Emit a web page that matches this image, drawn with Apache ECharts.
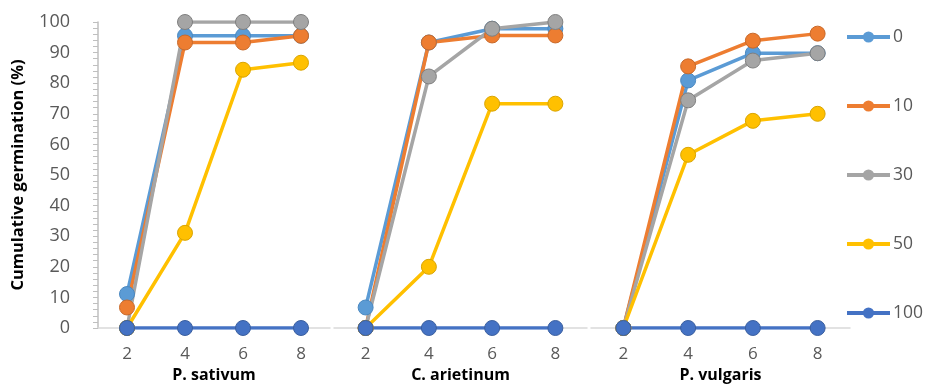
<!DOCTYPE html>
<html>
<head>
<meta charset="utf-8">
<script src="https://cdn.jsdelivr.net/npm/echarts@6/dist/echarts.min.js"></script>
<style>
html,body{margin:0;padding:0;background:#fff;}
#c{width:925px;height:384px;}
</style>
</head>
<body>
<div id="c"></div>
<script>
// Data
const days = ['2', '4', '6', '8'];
const panels = ['P. sativum', 'C. arietinum', 'P. vulgaris'];
const seriesNames = ['0', '10', '30', '50', '100'];
const yTicks = [0, 10, 20, 30, 40, 50, 60, 70, 80, 90, 100];

// P. sativum
const sativum_0   = [11.1, 95.5, 95.5, 95.5];
const sativum_10  = [6.7, 93.3, 93.3, 95.5];
const sativum_30  = [0, 100, 100, 100];
const sativum_50  = [0, 31.1, 84.4, 86.7];
const sativum_100 = [0, 0, 0, 0];

// C. arietinum
const arietinum_0   = [6.7, 93.3, 97.8, 97.8];
const arietinum_10  = [0, 93.3, 95.6, 95.6];
const arietinum_30  = [0, 82.2, 97.8, 100];
const arietinum_50  = [0, 20, 73.3, 73.3];
const arietinum_100 = [0, 0, 0, 0];

// P. vulgaris
const vulgaris_0   = [0, 80.9, 89.8, 89.8];
const vulgaris_10  = [0, 85.5, 93.9, 96.2];
const vulgaris_30  = [0, 74.4, 87.4, 89.8];
const vulgaris_50  = [0, 56.6, 67.7, 70.0];
const vulgaris_100 = [0, 0, 0, 0];

const panelData = [
  [sativum_0, sativum_10, sativum_30, sativum_50, sativum_100],
  [arietinum_0, arietinum_10, arietinum_30, arietinum_50, arietinum_100],
  [vulgaris_0, vulgaris_10, vulgaris_30, vulgaris_50, vulgaris_100]
];

const colors = ['#5B9BD5', '#ED7D31', '#A5A5A5', '#FFC000', '#4472C4'];
const borders = ['#4a88c0', '#c8692a', '#7f7f7f', '#d9a400', '#3a5f9f'];

const grids = [
  {left: 98, width: 232, top: 22, bottom: 56, outerBoundsMode: 'none', containLabel: false},
  {left: 334, width: 253, top: 22, bottom: 56, outerBoundsMode: 'none', containLabel: false},
  {left: 591, width: 259, top: 22, bottom: 56, outerBoundsMode: 'none', containLabel: false}
];

const xAxes = panels.map((p, i) => ({
  type: 'category',
  gridIndex: i,
  data: days,
  boundaryGap: true,
  axisLine: {show: true, lineStyle: {color: '#D9D9D9', width: 1.5}},
  axisTick: {show: false},
  axisLabel: {color: '#595959', fontSize: 17, fontFamily: 'Open Sans', margin: 18},
  name: p,
  nameLocation: 'middle',
  nameGap: 39,
  nameTextStyle: {color: '#000', fontSize: 16, fontWeight: 'bold', fontFamily: 'Open Sans'}
}));

const yAxes = panels.map((p, i) => ({
  type: 'value',
  gridIndex: i,
  min: 0,
  max: 100,
  interval: 10,
  show: i === 0,
  axisLine: {show: true, lineStyle: {color: '#BFBFBF', width: 1.5}},
  axisTick: {show: true, length: 5, lineStyle: {color: '#BFBFBF'}},
  minorTick: {show: true, splitNumber: 5, length: 5, lineStyle: {color: '#BFBFBF'}},
  splitLine: {show: false},
  axisLabel: {color: '#595959', fontSize: 18, fontFamily: 'Open Sans', margin: 28,
    formatter: v => yTicks.includes(v) ? String(v) : ''},
  name: i === 0 ? 'Cumulative germination (%)' : '',
  nameLocation: 'middle',
  nameGap: 71,
  nameRotate: 90,
  nameTextStyle: {color: '#000', fontSize: 16.5, fontWeight: 'bold', fontFamily: 'Open Sans'}
}));

const series = [];
panelData.forEach((sets, pi) => {
  sets.forEach((vals, si) => {
    series.push({
      name: seriesNames[si],
      type: 'line',
      xAxisIndex: pi,
      yAxisIndex: pi,
      data: vals,
      symbol: 'circle',
      symbolSize: 15,
      lineStyle: {color: colors[si], width: 3.5},
      itemStyle: {color: colors[si], borderColor: borders[si], borderWidth: 1},
      emphasis: {disabled: true},
      animation: false
    });
  });
});

const chart = echarts.init(document.getElementById('c'));
chart.setOption({
  animation: false,
  grid: grids,
  xAxis: xAxes,
  yAxis: yAxes,
  legend: {
    data: seriesNames,
    orient: 'vertical',
    left: 840,
    top: 23,
    itemWidth: 43,
    itemHeight: 14,
    itemGap: 51,
    itemStyle: {borderWidth: 0},
    lineStyle: {width: 4},
    textStyle: {color: '#595959', fontSize: 17.5, fontFamily: 'Open Sans', padding: [0, 0, 0, -2]}
  },
  series: series
});
</script>
</body>
</html>
